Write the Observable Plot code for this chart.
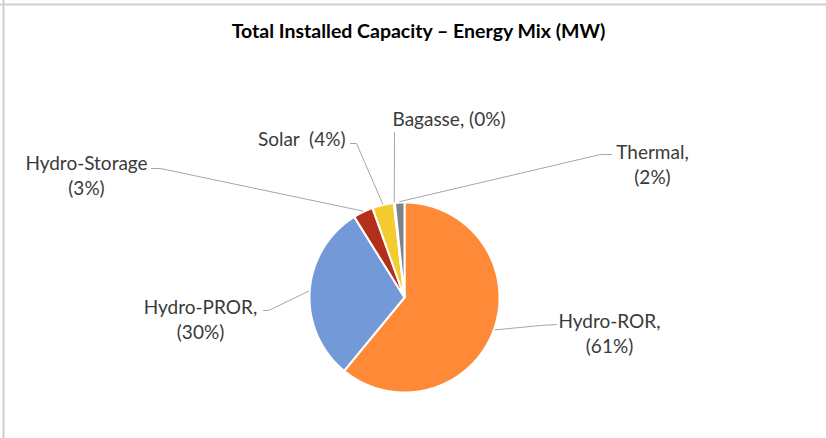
<!DOCTYPE html>
<html><head><meta charset="utf-8">
<script src="https://cdn.jsdelivr.net/npm/d3@7"></script>
<script src="https://cdn.jsdelivr.net/npm/@observablehq/plot@0.6"></script>
<style>body{margin:0;background:#fff;overflow:hidden}</style>
</head><body><div id="chart"></div>
<script>
// ---- data ----
const titleText = "Total Installed Capacity \u2013 Energy Mix (MW)";
const categories = ["Hydro-ROR", "Hydro-PROR", "Hydro-Storage", "Solar", "Bagasse", "Thermal"];
const capacityMW = [915, 453, 51, 55, 3, 24];
const labelFormats = ["{c},\n({p}%)", "{c},\n({p}%)", "{c}\n({p}%)", "{c}  ({p}%)", "{c}, ({p}%)", "{c},\n({p}%)"];
const sliceColors = ["#FE8A37", "#7399D9", "#B2301A", "#F5CC2F", "#6E9E4A", "#7D8189"];

// ---- layout (pixels relative to pie centre, y downward) ----
const W = 826, H = 438;
const cx = 404, cy = 297, R = 95;
const labelPos = [[205, 35], [-204, 21], [-318, -123], [-59, -159], [-12, -179], [248, -134]];
const labelAnchor = ["middle", "middle", "middle", "end", "start", "middle"];
const leaderKnee = [[136, 28], [-136, 13], [-244, -129], [-48, -154], [-10, -165], [196, -143]];
const leaderEnd = [[152, 27], [-141, 13], [-253, -129], [-54, -154], [-10, -165], [207, -143]];
const titlePos = [14, -266];
const font = "Lato, 'Open Sans', sans-serif";

const total = d3.sum(capacityMW);
const arcs = d3.pie().sort(null).value(d => d)(capacityMW);

// slice polygons
const slicePts = [];
arcs.forEach((a, i) => {
  const c = categories[i];
  slicePts.push({c, x: 0, y: 0});
  const n = Math.max(2, Math.ceil((a.endAngle - a.startAngle) / (Math.PI / 360)));
  for (let k = 0; k <= n; k++) {
    const t = a.startAngle + (a.endAngle - a.startAngle) * k / n;
    slicePts.push({c, x: R * Math.sin(t), y: -R * Math.cos(t)});
  }
});

// leader lines
const leaderPts = [];
arcs.forEach((a, i) => {
  const c = categories[i];
  const m = (a.startAngle + a.endAngle) / 2;
  leaderPts.push({c, x: (R + 1) * Math.sin(m), y: -(R + 1) * Math.cos(m)});
  leaderPts.push({c, x: leaderKnee[i][0], y: leaderKnee[i][1]});
  leaderPts.push({c, x: leaderEnd[i][0], y: leaderEnd[i][1]});
});

const labels = categories.map((c, i) => ({
  text: labelFormats[i].replace("{c}", c).replace("{p}", Math.round(capacityMW[i] / total * 100)),
  x: labelPos[i][0], y: labelPos[i][1], anchor: labelAnchor[i]
}));

const xDom = [-cx, W - cx], yDom = [-cy, H - cy];

const plot = Plot.plot({
  width: W, height: H,
  margin: 0,
  x: {domain: xDom, range: [0, W], axis: null},
  y: {domain: yDom, range: [0, H], axis: null},
  color: {domain: categories, range: sliceColors},
  style: {fontFamily: font, background: "white"},
  marks: [
    Plot.ruleY([yDom[0] + 4], {stroke: "#d0d0d0", strokeWidth: 2}),
    Plot.ruleX([xDom[0] + 3], {stroke: "#d0d0d0", strokeWidth: 2}),
    Plot.line(slicePts, {x: "x", y: "y", z: "c", fill: "c", stroke: "white", strokeWidth: 2, curve: "linear-closed", strokeLinejoin: "round"}),
    Plot.line(leaderPts, {x: "x", y: "y", z: "c", stroke: "#a6a6a6", strokeWidth: 1}),
    ...["middle", "start", "end"].map(an => Plot.text(labels.filter(d => d.anchor === an), {
      x: "x", y: "y", text: "text", textAnchor: an, fill: "#3a3a3a", fontSize: 19, lineHeight: 1.3
    })),
    Plot.text([titleText], {x: () => titlePos[0], y: () => titlePos[1], text: d => d, fontSize: 19.5, fontWeight: "bold", fill: "#000"})
  ]
});
document.getElementById("chart").appendChild(plot);
</script>
</body></html>
